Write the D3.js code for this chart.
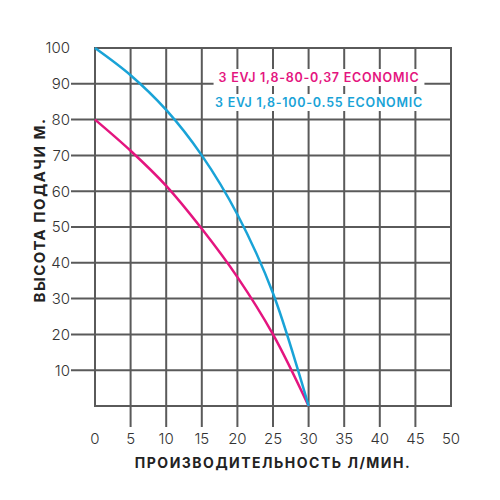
<!DOCTYPE html>
<html>
<head>
<meta charset="utf-8">
<script src="https://cdn.jsdelivr.net/npm/d3@7"></script>
<style>
  body { margin: 0; background: #fff; }
  svg { display: block; }
</style>
</head>
<body>
<div id="chart"></div>
<script>
// data
var flow = [0, 5, 10, 15, 20, 25, 30];
var head80 = [80, 71.3, 61.5, 49.5, 36, 20, 0];
var head100 = [100, 92.4, 82.7, 70, 53.5, 31.5, 0];
var xTicks = [0, 5, 10, 15, 20, 25, 30, 35, 40, 45, 50];
var yTicks = [10, 20, 30, 40, 50, 60, 70, 80, 90, 100];
var seriesNames = ["3 EVJ 1,8-80-0,37 ECONOMIC", "3 EVJ 1,8-100-0.55 ECONOMIC"];
var seriesColors = ["#e4157f", "#19a3d7"];

var width = 500, height = 500;
var svg = d3.select("#chart").append("svg")
    .attr("width", width)
    .attr("height", height);

var x = d3.scaleLinear().domain([0, 50]).range([95, 451]);
var y = d3.scaleLinear().domain([0, 100]).range([406, 48]);

var gridColor = "#5a5a5a";
var textColor = "#333";
var font = "Inter, 'Open Sans', sans-serif";

// vertical grid lines (inner ones stick out below the plot)
svg.append("g").selectAll("line")
    .data(xTicks)
    .enter().append("line")
    .attr("x1", function (d) { return x(d); })
    .attr("x2", function (d) { return x(d); })
    .attr("y1", y(100))
    .attr("y2", function (d) { return (d == 0 || d == 50) ? y(0) : y(0) + 21; })
    .style("stroke", gridColor)
    .style("stroke-width", 2);

// horizontal grid lines (inner ones stick out to the left)
svg.append("g").selectAll("line")
    .data([0].concat(yTicks))
    .enter().append("line")
    .attr("x1", function (d) { return (d == 0 || d == 100) ? x(0) - 1 : x(0) - 24; })
    .attr("x2", x(50) + 1)
    .attr("y1", function (d) { return y(d); })
    .attr("y2", function (d) { return y(d); })
    .style("stroke", gridColor)
    .style("stroke-width", 2);

// tick labels
svg.append("g").selectAll("text")
    .data(yTicks)
    .enter().append("text")
    .attr("x", 70)
    .attr("y", function (d) { return y(d); })
    .attr("dy", "0.36em")
    .attr("text-anchor", "end")
    .style("font-family", font)
    .style("font-weight", 300)
    .style("font-size", "15px")
    .style("fill", textColor)
    .text(function (d) { return d; });

svg.append("g").selectAll("text")
    .data(xTicks)
    .enter().append("text")
    .attr("x", function (d) { return x(d); })
    .attr("y", 444)
    .attr("text-anchor", "middle")
    .style("font-family", font)
    .style("font-weight", 300)
    .style("font-size", "15px")
    .style("fill", textColor)
    .text(function (d) { return d; });

// axis titles
svg.append("text")
    .attr("x", 273)
    .attr("y", 468)
    .attr("text-anchor", "middle")
    .style("font-family", font)
    .style("font-weight", 700)
    .style("font-size", "14px")
    .style("letter-spacing", "1.5px")
    .style("fill", "#222")
    .text("ПРОИЗВОДИТЕЛЬНОСТЬ Л/МИН.");

svg.append("text")
    .attr("transform", "translate(45,210) rotate(-90)")
    .attr("text-anchor", "middle")
    .style("font-family", font)
    .style("font-weight", 700)
    .style("font-size", "15px")
    .style("letter-spacing", "1.5px")
    .style("fill", "#222")
    .text("ВЫСОТА ПОДАЧИ М.");

// curves
var line = d3.line()
    .x(function (d) { return x(d[0]); })
    .y(function (d) { return y(d[1]); })
    .curve(d3.curveCatmullRom.alpha(0.5));

[head80, head100].forEach(function (vals, i) {
    svg.append("path")
        .datum(flow.map(function (f, j) { return [f, vals[j]]; }))
        .attr("d", line)
        .style("fill", "none")
        .style("stroke", seriesColors[i])
        .style("stroke-width", 2.5);
});

// legend with white boxes over the grid
var legendY = [82, 107];
var legendX = [319, 319];
seriesNames.forEach(function (name, i) {
    var g = svg.append("g");
    var t = g.append("text")
        .attr("x", legendX[i])
        .attr("y", legendY[i])
        .attr("text-anchor", "middle")
        .style("font-family", font)
        .style("font-weight", 600)
        .style("font-size", "12.5px")
        .style("letter-spacing", "0.75px")
        .style("fill", seriesColors[i])
        .text(name);
    var b = t.node().getBBox();
    g.insert("rect", "text")
        .attr("x", b.x - 5)
        .attr("y", b.y - 1)
        .attr("width", b.width + 10)
        .attr("height", b.height + 2)
        .style("fill", "#fff");
});
</script>
</body>
</html>
